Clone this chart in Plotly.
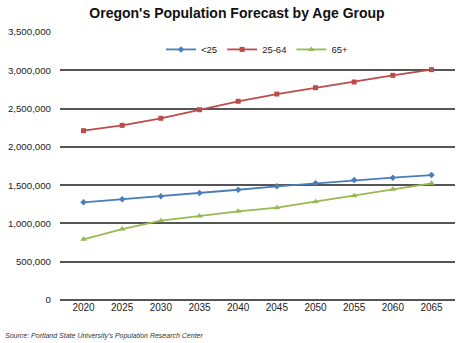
import plotly.graph_objects as go

years = ["2020", "2025", "2030", "2035", "2040", "2045", "2050", "2055", "2060", "2065"]
under25 = [1276000, 1315000, 1354000, 1397000, 1440000, 1485000, 1524000, 1567000, 1597000, 1632000]
age25_64 = [2211000, 2281000, 2373000, 2485000, 2595000, 2690000, 2773000, 2847000, 2934000, 3008000]
age65plus = [793000, 927000, 1036000, 1097000, 1158000, 1206000, 1284000, 1362000, 1446000, 1524000]
tick_vals = [0, 500000, 1000000, 1500000, 2000000, 2500000, 3000000, 3500000]
tick_text = ["0", "500,000", "1,000,000", "1,500,000", "2,000,000", "2,500,000", "3,000,000", "3,500,000"]

fig = go.Figure()
fig.add_trace(go.Scatter(x=years, y=under25, name="<25", mode="lines+markers",
                         line=dict(color="#4A7EBB", width=1.8),
                         marker=dict(symbol="diamond", size=5, color="#4A7EBB")))
fig.add_trace(go.Scatter(x=years, y=age25_64, name="25-64", mode="lines+markers",
                         line=dict(color="#BE4B48", width=1.8),
                         marker=dict(symbol="square", size=5, color="#BE4B48")))
fig.add_trace(go.Scatter(x=years, y=age65plus, name="65+", mode="lines+markers",
                         line=dict(color="#98B954", width=1.8),
                         marker=dict(symbol="triangle-up", size=6, color="#98B954")))

fig.update_layout(
    width=474, height=343,
    margin=dict(l=60, r=19, t=32, b=43),
    paper_bgcolor="white", plot_bgcolor="white",
    font=dict(family="Liberation Sans, Arial, sans-serif", size=10, color="#222"),
    title=dict(text="<b>Oregon's Population Forecast by Age Group</b>",
               x=0.5, xanchor="center", y=0.962, yanchor="middle",
               font=dict(size=14, color="#111")),
    legend=dict(orientation="h", x=0.5, xanchor="center", y=0.935, yanchor="middle",
                font=dict(size=9.5, color="#222"), bgcolor="rgba(0,0,0,0)",
                itemwidth=30, tracegroupgap=0),
    showlegend=True,
    annotations=[dict(text="<i>Source: Portland State University's Population Research Center</i>",
                      xref="paper", yref="paper", x=-0.145, y=-0.134, xanchor="left", yanchor="middle",
                      showarrow=False, font=dict(size=7, color="#333"))],
)
fig.update_xaxes(type="category", showgrid=False, showline=False, ticks="",
                 automargin=False, tickfont=dict(size=10, color="#222"))
fig.update_yaxes(range=[0, 3500000], tickvals=tick_vals, ticktext=tick_text,
                 showgrid=True, gridcolor="#555", gridwidth=1.5, zeroline=True,
                 zerolinecolor="#555", zerolinewidth=1.5, showline=False, ticks="",
                 ticklabelstandoff=8, automargin=False,
                 tickfont=dict(size=9.7, color="#222"))

fig.write_html("out.html")
